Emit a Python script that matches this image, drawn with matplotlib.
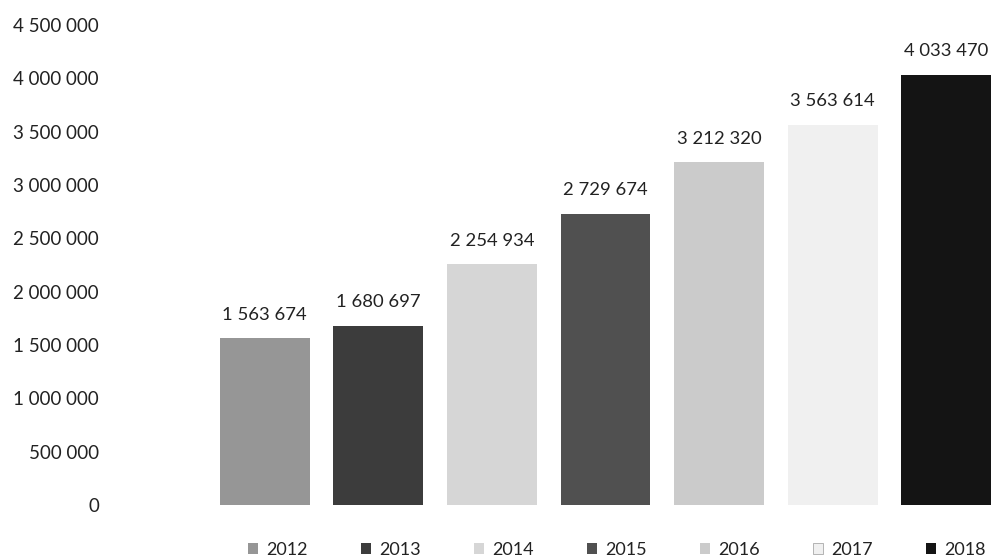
import matplotlib

matplotlib.use("Agg")
import matplotlib.pyplot as plt
from matplotlib.patches import Patch
from matplotlib.ticker import FuncFormatter

years = ["2012", "2013", "2014", "2015", "2016", "2017", "2018"]
values = [1563674, 1680697, 2254934, 2729674, 3212320, 3563614, 4033470]
colors = ["#969696", "#3c3c3c", "#d6d6d6", "#505050", "#cbcbcb", "#f0f0f0", "#141414"]


def spaced(v, _pos=None):
    return f"{int(v):,}".replace(",", " ")


plt.rcParams["font.family"] = ["Lato", "DejaVu Sans"]

fig = plt.figure(figsize=(9.92, 5.6), dpi=100)
ax = fig.add_axes([208 / 992, 55 / 560, 795 / 992, 480 / 560])

x = range(len(years))
ax.bar(x, values, width=0.79, color=colors)
for xi, v in zip(x, values):
    ax.annotate(spaced(v), (xi, v), xytext=(0, 17), textcoords="offset points",
                ha="center", va="center", fontsize=13.3, color="#222222")

ax.set_xlim(-0.5, len(years) - 0.5)
ax.set_ylim(0, 4500000)
ax.set_yticks(range(0, 4500001, 500000))
ax.yaxis.set_major_formatter(FuncFormatter(spaced))
ax.tick_params(axis="y", length=0, pad=78.5, labelsize=13.5, labelcolor="#222222")
ax.set_xticks([])
for s in ax.spines.values():
    s.set_visible(False)

handles = [Patch(facecolor=c, edgecolor="#999999" if c == "#f0f0f0" else "none", linewidth=0.5)
           for c in colors]
fig.legend(handles, years, ncol=7, loc="center", bbox_to_anchor=(617 / 992, 1 - 550 / 560),
           frameon=False, fontsize=13, handlelength=0.55, handleheight=0.55,
           handletextpad=0.45, columnspacing=2.95, labelcolor="#222222",
           borderpad=0.1)

fig.savefig("out.png", dpi=100)
